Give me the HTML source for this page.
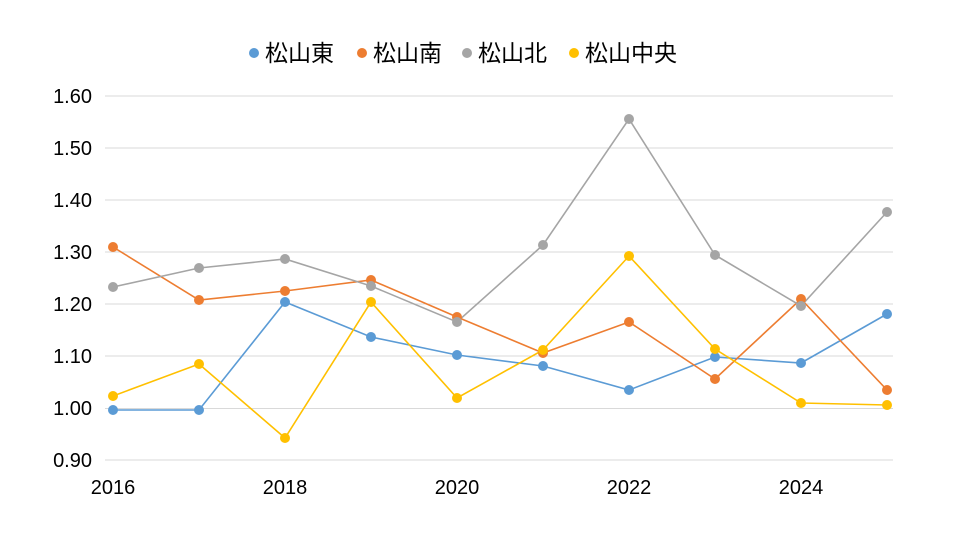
<!DOCTYPE html><html><head><meta charset="utf-8"><style>body{margin:0;background:#fff}svg{display:block}text{font-family:"Liberation Sans","Noto Sans CJK JP",sans-serif;fill:#000}</style></head><body>
<svg width="960" height="540" viewBox="0 0 960 540">
<defs>
<circle id="b" r="5" fill="#5b9bd5"/><circle id="o" r="5" fill="#ed7d31"/><circle id="g" r="5" fill="#a5a5a5"/><circle id="y" r="5" fill="#ffc000"/>
</defs>
<g stroke="#d9d9d9" stroke-width="1">
<line x1="105" x2="893" y1="96" y2="96"/><line x1="105" x2="893" y1="148" y2="148"/><line x1="105" x2="893" y1="200" y2="200"/><line x1="105" x2="893" y1="252" y2="252"/><line x1="105" x2="893" y1="304" y2="304"/><line x1="105" x2="893" y1="356" y2="356"/><line x1="105" x2="893" y1="408.5" y2="408.5"/><line x1="105" x2="893" y1="460" y2="460"/></g>
<g font-size="20" text-anchor="end">
<text x="92" y="103">1.60</text><text x="92" y="155">1.50</text><text x="92" y="207">1.40</text><text x="92" y="259">1.30</text><text x="92" y="311">1.20</text><text x="92" y="363">1.10</text><text x="92" y="415">1.00</text><text x="92" y="467">0.90</text></g>
<g font-size="20" text-anchor="middle">
<text x="113" y="494">2016</text><text x="285" y="494">2018</text><text x="457" y="494">2020</text><text x="629" y="494">2022</text><text x="801" y="494">2024</text></g>
<g fill="none" stroke-width="1.6">
<polyline stroke="#5b9bd5" points="113,410 199,410 285,302 371,337 457,355 543,366 629,390 715,357 801,363 887,314"/>
<polyline stroke="#ed7d31" points="113,247 199,300 285,291 371,280 457,317 543,353 629,322 715,379 801,299 887,390"/>
<polyline stroke="#a5a5a5" points="113,287 199,268 285,259 371,286 457,322 543,245 629,119 715,255 801,306 887,212"/>
<polyline stroke="#ffc000" points="113,396 199,364 285,438 371,302 457,398 543,350 629,256 715,349 801,403 887,405"/>
</g>
<g fill="#5b9bd5"><circle cx="113" cy="410" r="5"/><circle cx="199" cy="410" r="5"/><circle cx="285" cy="302" r="5"/><circle cx="371" cy="337" r="5"/><circle cx="457" cy="355" r="5"/><circle cx="543" cy="366" r="5"/><circle cx="629" cy="390" r="5"/><circle cx="715" cy="357" r="5"/><circle cx="801" cy="363" r="5"/><circle cx="887" cy="314" r="5"/></g>
<g fill="#ed7d31"><circle cx="113" cy="247" r="5"/><circle cx="199" cy="300" r="5"/><circle cx="285" cy="291" r="5"/><circle cx="371" cy="280" r="5"/><circle cx="457" cy="317" r="5"/><circle cx="543" cy="353" r="5"/><circle cx="629" cy="322" r="5"/><circle cx="715" cy="379" r="5"/><circle cx="801" cy="299" r="5"/><circle cx="887" cy="390" r="5"/></g>
<g fill="#a5a5a5"><circle cx="113" cy="287" r="5"/><circle cx="199" cy="268" r="5"/><circle cx="285" cy="259" r="5"/><circle cx="371" cy="286" r="5"/><circle cx="457" cy="322" r="5"/><circle cx="543" cy="245" r="5"/><circle cx="629" cy="119" r="5"/><circle cx="715" cy="255" r="5"/><circle cx="801" cy="306" r="5"/><circle cx="887" cy="212" r="5"/></g>
<g fill="#ffc000"><circle cx="113" cy="396" r="5"/><circle cx="199" cy="364" r="5"/><circle cx="285" cy="438" r="5"/><circle cx="371" cy="302" r="5"/><circle cx="457" cy="398" r="5"/><circle cx="543" cy="350" r="5"/><circle cx="629" cy="256" r="5"/><circle cx="715" cy="349" r="5"/><circle cx="801" cy="403" r="5"/><circle cx="887" cy="405" r="5"/></g>
<g font-size="23">
<circle cx="254" cy="53" r="5" fill="#5b9bd5"/><text x="265" y="61">松山東</text>
<circle cx="362" cy="53" r="5" fill="#ed7d31"/><text x="373" y="61">松山南</text>
<circle cx="467" cy="53" r="5" fill="#a5a5a5"/><text x="478" y="61">松山北</text>
<circle cx="574" cy="53" r="5" fill="#ffc000"/><text x="585" y="61">松山中央</text>
</g>
</svg></body></html>
